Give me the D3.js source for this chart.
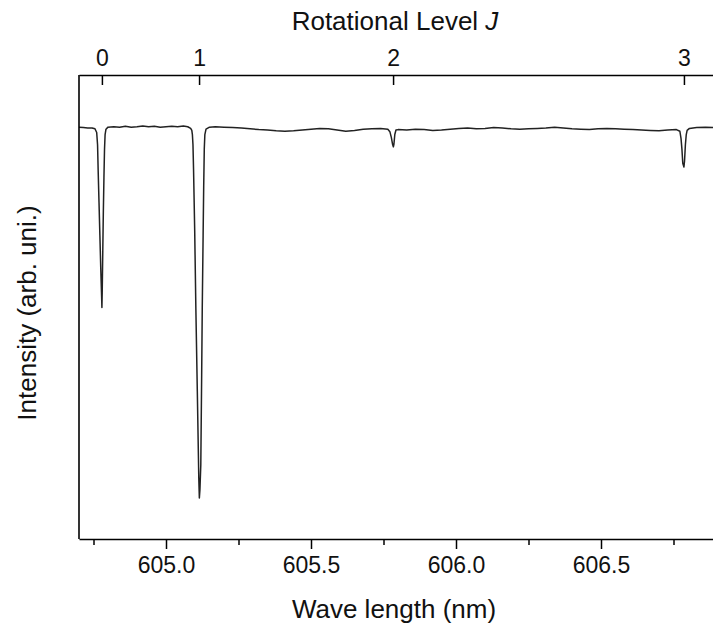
<html>
  <head>
    <meta charset="utf-8">
    <!-- Load d3.js -->
    <script src="https://d3js.org/d3.v7.min.js"></script>
    <style>
      body { margin: 0; background: #fff; }
    </style>
  </head>
  <body>
    <div id="my_dataviz"></div>
  </body>

  <script>
    // spectrum
    const wavelength = [
      604.700, 604.715, 604.730, 604.745, 604.755, 604.761, 604.764, 604.766, 604.769, 604.772,
      604.775, 604.778, 604.779, 604.780, 604.782, 604.784, 604.786, 604.788, 604.790, 604.793,
      604.800, 604.820, 604.840, 604.860, 604.880, 604.900, 604.920, 604.940, 604.960, 604.980,
      605.000, 605.020, 605.040, 605.060, 605.075, 605.085, 605.089, 605.091, 605.093, 605.095,
      605.099, 605.103, 605.108, 605.113, 605.115, 605.117, 605.120, 605.123, 605.125, 605.128,
      605.130, 605.132, 605.134, 605.138, 605.150, 605.170, 605.200, 605.230, 605.260, 605.290,
      605.320, 605.350, 605.380, 605.410, 605.440, 605.470, 605.500, 605.530, 605.560, 605.590,
      605.620, 605.650, 605.680, 605.710, 605.740, 605.765, 605.772, 605.777, 605.781, 605.784,
      605.786, 605.789, 605.793, 605.800, 605.830, 605.860, 605.890, 605.920, 605.950, 605.980,
      606.010, 606.040, 606.070, 606.100, 606.130, 606.160, 606.190, 606.220, 606.250, 606.280,
      606.310, 606.340, 606.370, 606.400, 606.430, 606.460, 606.490, 606.520, 606.550, 606.580,
      606.610, 606.640, 606.670, 606.700, 606.730, 606.760, 606.772, 606.776, 606.779, 606.782,
      606.786, 606.788, 606.791, 606.794, 606.797, 606.805, 606.830, 606.860, 606.900
    ]
    const intensity = [
      1.003, 1.002, 1.001, 1.001, 0.999, 0.990, 0.960, 0.900, 0.820, 0.740,
      0.660, 0.590, 0.564, 0.600, 0.700, 0.800, 0.880, 0.950, 0.985, 0.998,
      1.003, 1.004, 1.003, 1.005, 1.003, 1.004, 1.006, 1.004, 1.005, 1.003,
      1.004, 1.005, 1.004, 1.006, 1.004, 1.000, 0.995, 0.985, 0.960, 0.900,
      0.750, 0.560, 0.360, 0.150, 0.100, 0.120, 0.180, 0.400, 0.560, 0.740,
      0.860, 0.950, 0.985, 0.998, 1.003, 1.004, 1.003, 1.002, 1.001, 0.999,
      0.997, 0.996, 0.994, 0.993, 0.994, 0.996, 0.998, 1.000, 0.999, 0.996,
      0.993, 0.995, 0.998, 0.999, 1.000, 0.998, 0.992, 0.978, 0.962, 0.955,
      0.962, 0.985, 0.996, 0.997, 0.996, 0.998, 0.997, 0.995, 0.996, 0.998,
      1.000, 1.001, 0.999, 1.000, 1.002, 1.001, 0.999, 0.998, 0.999, 1.000,
      1.001, 1.003, 1.001, 0.999, 0.998, 0.997, 0.999, 1.000, 0.999, 0.998,
      0.997, 0.996, 0.995, 0.994, 0.996, 0.997, 0.993, 0.975, 0.950, 0.915,
      0.906, 0.920, 0.960, 0.985, 0.995, 1.000, 1.002, 1.003, 1.002
    ]

    // bottom axis ticks (nm)
    const majorTicks = [605.0, 605.5, 606.0, 606.5]
    const minorTicks = [604.75, 605.25, 605.75, 606.25, 606.75]
    // top axis: rotational level J and where each line sits
    const levelJ = [0, 1, 2, 3]
    const levelWavelength = [604.779, 605.114, 605.783, 606.786]

    const font = "'Liberation Sans', Arial, sans-serif"

    const margin = {top: 75, right: 0, bottom: 89, left: 79}
    const W = 713, H = 628
    // the frame runs past the right edge of the window, like the picture
    const width = 638
    const height = H - margin.top - margin.bottom

    const svg = d3.select("#my_dataviz")
      .append("svg")
        .attr("width", W)
        .attr("height", H)
        .style("display", "block")
        .style("font-family", font)

    const x = d3.scaleLinear()
      .domain([604.7, 606.9])
      .range([margin.left, margin.left + width])
    const y = d3.scaleLinear()
      .domain([0, 1.13])
      .range([margin.top + height, margin.top])

    // spectrum
    const pts = wavelength.map((w, i) => [w, intensity[i]])
    svg.append("path")
      .datum(pts)
      .attr("fill", "none")
      .attr("stroke", "#222")
      .attr("stroke-width", 1.5)
      .attr("stroke-linejoin", "round")
      .attr("d", d3.line().x(d => x(d[0])).y(d => y(d[1])))

    // left frame
    svg.append("line")
      .attr("x1", margin.left).attr("x2", margin.left)
      .attr("y1", margin.top).attr("y2", margin.top + height)
      .attr("stroke", "#000").attr("stroke-width", 1.6)

    // bottom axis: major + minor ticks
    svg.append("g")
      .attr("transform", `translate(0, ${margin.top + height})`)
      .call(d3.axisBottom(x).tickValues(majorTicks).tickFormat(d3.format(".1f"))
        .tickSizeInner(10).tickSizeOuter(0).tickPadding(8))
    svg.append("g")
      .attr("transform", `translate(0, ${margin.top + height})`)
      .call(d3.axisBottom(x).tickValues(minorTicks).tickFormat("")
        .tickSizeInner(6).tickSizeOuter(0))
      .select(".domain").remove()

    // top axis: rotational levels, ticks point inward
    svg.append("g")
      .attr("transform", `translate(0, ${margin.top})`)
      .call(d3.axisTop(x).tickValues(levelWavelength).tickFormat((d, i) => levelJ[i])
        .tickSizeInner(-10).tickSizeOuter(0).tickPadding(9))

    svg.selectAll(".domain").attr("stroke-width", 1.6)
    svg.selectAll(".tick line").attr("stroke-width", 1.5)
    svg.selectAll(".tick text")
      .attr("font-family", font)
      .attr("font-size", "23px")
      .attr("fill", "#111")

    // titles
    svg.append("text")
      .attr("x", 395).attr("y", 30)
      .attr("text-anchor", "middle")
      .attr("font-size", "26px")
      .attr("fill", "#111")
      .html("Rotational Level <tspan font-style='italic'>J</tspan>")

    svg.append("text")
      .attr("x", 394).attr("y", 618)
      .attr("text-anchor", "middle")
      .attr("font-size", "26px")
      .attr("fill", "#111")
      .text("Wave length (nm)")

    svg.append("text")
      .attr("transform", "translate(36, 313) rotate(-90)")
      .attr("text-anchor", "middle")
      .attr("font-size", "26px")
      .attr("fill", "#111")
      .text("Intensity (arb. uni.)")
  </script>
</html>
